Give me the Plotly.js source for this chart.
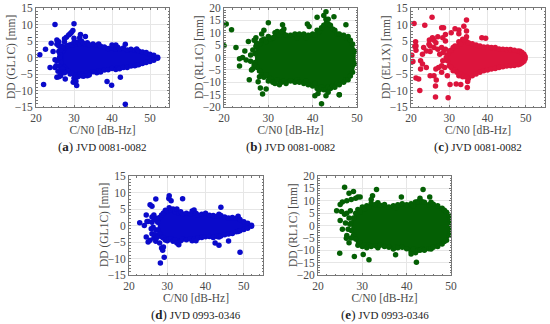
<!DOCTYPE html>
<html><head><meta charset="utf-8">
<script src="https://cdn.plot.ly/plotly-3.0.1.min.js"></script>
<style>html,body{margin:0;padding:0;background:#fff}#c{width:550px;height:324px}</style>
</head><body><div id="c"></div>
<script>
const blue='#0a0acb', green='#045f04', red='#dc143c';
const yRange15=[-15,15], yRange20=[-20,20];
const yTicks15=[-15,-10,-5,0,5,10,15], yTicks20=[-20,-15,-10,-5,0,5,10,15,20];
const xTicks=[20,30,40,50];

const aEnvX=[26.5,27,27.5,28,28.5,29,29.5,30,30.5,31,31.5,32,32.5,33,33.5,34,35,36,36.5,37,38,39,40,41,41.5,42,43,44,45,46,46.5,47,48,49,50,51,52];
const aUp=[0.6,2,2.8,3.4,3.6,3.9,3.8,4.6,4.2,4.7,4.1,4.9,4.3,4.1,4.5,3.9,4.1,3.7,4.1,3.4,3.2,2.7,3,2.6,3.1,2.6,2.9,2.3,2.5,2.2,2.6,2,1.7,1.5,1,0.7,0.1];
const aLo=[-0.8,-2.4,-3,-3.8,-4.2,-5,-4.8,-6.3,-5.4,-5.8,-5,-5.5,-4.9,-5.2,-4.6,-5,-4.3,-4.6,-4,-4.4,-3.8,-3.7,-3.3,-3.6,-3.1,-3.4,-3,-3,-2.6,-2.5,-2.2,-2.2,-1.8,-1.5,-1.2,-0.8,-0.2];
const aOutX=[25,30,29.7,29.3,29,28.6,28,27.5,31.7,33,31.5,25.5,26,25.5,26,24,22.5,21,24.5,23.7,22,25.5,26,26.5,27.7,30.7,29.8,38.7,39.9,42.2,43.5,25,25.5,25,41,40,43.5,26,30.5,25.3,26.5,27.5,32.5,33.5,34,30,26.3,26.6,26,27,27,26.4,25.8,26.6,27.2,26.8,26.2,27.5];
const aOutY=[10,10.2,8.2,7.6,7.2,6.8,6.1,5.7,7,6.4,6,5.3,4.8,4,3.5,4.3,2.5,0.8,1.8,-3,-8.2,-6,-5.8,-5.5,-6.5,-8.5,-7.5,-7.3,-8.4,-6,-14.2,-3,-1,-0.7,3.8,3.8,4,1.8,-7.2,-2.5,-3.8,4.7,-5.7,-5.5,-5.3,5.8,1,-1.5,-2.6,2.8,-3.4,2.2,-4.2,-4.6,-4.3,3.4,0,-4.6];

const bEnvX=[27,27.5,28,28.5,29,29.5,30,30.5,31,31.5,32,32.5,33,33.5,34,35,36,36.5,37,38,38.5,39,40,40.5,41,41.5,42,42.5,43,43.5,44,44.5,45,45.5,46,47,47.5,48,48.5,49,49.5];
const bUp=[1.5,4,5.5,7,7.5,6.5,8.5,7.5,8,10,10.5,9,10.5,11.5,9,9,9.5,8,9.5,9.5,8,9,9.5,9,11,10.5,12,13,15.5,13.5,13,11.5,11,9.5,9.5,9,8,8.5,7,5.5,2.5];
const bLo=[-2,-4,-5.5,-7,-8,-7,-9.5,-8.5,-10,-10.5,-9,-11,-10,-9.5,-10.5,-9.5,-10,-9,-10,-10.5,-9.5,-11,-11.5,-10.5,-12.5,-13,-12,-13,-13,-12,-12.5,-11.5,-12,-10.5,-11,-10,-9,-9,-7.5,-6,-2.5];
const bOutX=[20.5,20,21.7,22.7,23.5,23.5,24.2,24.7,25,25.5,26,25.7,26.2,26.5,27.7,28.2,28.7,29.5,30,33.2,38.8,41,43,42.5,43.5,44.8,46,47.5,40.5,41.2,42,43,46,43.5,28.5,27.2,29,26.8,39.2,26.8,27.2,26.5,26,28,27.3];
const bOutY=[13.5,4.7,11.2,4,-0.5,-3.4,0,2.6,-1,6.5,1,-9,-5,-4.5,-9.8,-12.3,-14.7,-12.7,14,13.2,13.5,16.3,18.5,17,15.5,16.5,-15,13.2,-15.5,-14.5,-18.7,-15.5,-15,-14,9.5,8,11,7,12.5,-3,4.5,3,-1.5,-7.8,6];

const cEnvX=[29.5,30,30.5,31,31.5,32,32.5,33,33.5,34,34.5,35,36,37,38,39,40,41,42,43,44,45,46,47,48,48.5,49,49.5,49.8];
const cUp=[0.8,2,2.2,3,3.5,3.4,4.8,4,5.5,5.2,6.3,4.5,4.2,3.8,3.5,3.2,3.2,3,3,2.6,2.5,2.4,2.4,2.2,2,1.9,1.5,1,0.3];
const cLo=[-1,-2.5,-3,-4,-3.8,-4.5,-5.5,-5,-5.8,-5.5,-6,-6.4,-5.5,-5,-4.5,-4,-3.8,-3.5,-3.3,-3,-2.8,-2.6,-2.5,-2.4,-2.2,-2,-1.6,-1.1,-0.4];
const cOutX=[25.5,20.8,23.6,34.5,20.2,28,28.5,31.5,32.5,33.8,34.5,30.5,32.5,24.8,25.6,26,27,28.3,29,21.2,21.3,21,21.3,20.3,20.5,22.5,23,23.3,24,24.7,25,25,26,26.5,27,28,29,21.3,22,22.5,23,24,25,26,26.5,22.3,26.6,26.4,29.7,30.2,31.8,33,34.7,34.8,28,29.5,38.5,39.5,27.5,28.3,28.8,29,28,27.2,29.2,28.4];
const cOutY=[12.2,10.3,9.8,11.4,0.7,9,9,8.7,8.3,9.5,8,7.5,7.2,5.3,6,5.2,6.3,6,7,4.8,3.5,3.3,2.2,-1.3,-1.2,-1,1,3,2,4,1.8,3.5,3,4.5,2.5,3,5,-6.2,-6.5,-3.5,-2,-3,-5.5,-5.5,-3.5,-10,-6.8,-8.6,-12.2,-8.2,-8,-8.2,-9.1,-7.3,-4.5,-5.5,6,5.8,1,-1,-3,2.5,-2.5,-3,0,1.5];
const cOut2X=[26.4];
const cOut2Y=[-12];

const dEnvX=[27.5,28,28.5,29,29.5,30,30.5,31,31.5,32,32.5,33,33.5,34,35,36,36.5,37,37.5,38,39,40,41,42,43,43.5,44,45,46,47,48,48.5,49,50,51,52];
const dUp=[1,2.4,3.2,3.8,4.6,4.4,5.4,4.6,5,4.2,5,3.8,4.2,3.5,3.7,3.5,4.4,4.7,3.7,3.2,3.4,3.7,3.1,3,2.8,3.4,3,2.6,2.3,2.4,2.2,2.8,1.8,1.1,0.7,0.1];
const dLo=[-1.4,-2.6,-3.4,-3.8,-4.4,-4.6,-4.2,-4,-4.8,-4.4,-5.3,-5.8,-4.6,-4.2,-4.3,-4,-4.6,-4.2,-4.6,-3.8,-3.6,-3.4,-3.3,-3.6,-3.3,-3.5,-3.2,-2.8,-2.6,-2.4,-1.9,-1.8,-1.6,-1.2,-0.8,-0.2];
const dOutX=[22.8,24,24.5,24.7,25.5,26,27,26.5,28.2,28.5,28.8,29.2,29,30.5,30.4,31,34,44,49,42.5,43.5,46,24.5,25,25.5,26.5,27,28,25,26,26.3,26.6,26,27,27.2,26.8,26,25.8,27.3];
const dOutY=[0.8,0,3.2,1.2,6.3,5.8,8,3.2,-11.4,-6.8,-7.5,-9.6,-6.5,9,8.2,7.5,8.1,5.5,-8.1,-5.3,-6,-4.7,-3.5,-5,-4.5,-3.8,-4.8,-5.3,1.2,1,-0.5,1.8,-2.5,-1.4,2.2,-2.8,2.6,-1,-3.6];

const eEnvX=[27.5,28,28.5,29,29.5,30,30.5,31,31.5,32,33,33.5,34,35,36,37,37.5,38,39,40,41,41.5,42,42.5,43,43.5,44,45,45.5,46,47,48,48.5,49,49.5,49.8];
const eUp=[1,3,5,6.5,5.5,7.5,6.8,8,7.5,9,8.5,9.2,8.2,8.5,7.5,8,7.2,8.4,8.8,8.4,8.8,8,9.5,9.6,11,9.6,9.4,8.4,9.4,8.6,8,7,6.2,5.4,4.2,2.5];
const eLo=[-2,-4,-5.5,-8,-7,-8.5,-7.8,-9,-8,-8.5,-8.2,-9,-8,-8.5,-8.8,-9.5,-8.8,-9,-8.8,-9.4,-10.5,-9.5,-11,-10,-10,-9.5,-10,-9.4,-9.5,-8.8,-8.5,-7.5,-6.5,-6,-4,-2.5];
const eOutX=[24.2,25,25.5,26,26.5,27,27.5,28,28.5,29,29.5,33.2,32.3,32,38.8,43.7,45.2,24.9,28.2,30.2,31.5,42.2,37.5,41,25.3,25,26,26.5,25.5,26.5,27,27.5,26.2,27,26.8,27.3,26.4,27.2];
const eOutY=[6,8.5,9.5,15.5,10,13,10.5,13.7,11,11.5,11.5,14.5,12,10.5,11.5,14.5,11.5,-11.2,-12.5,-11.7,-13.8,-14.8,-11.8,-11.5,5.7,2,4.5,5,-1.5,-4,-7,-5,1,3,-1.5,6,-5.2,0.5];

const panels=[
 {key:'',  color:blue,  box:[36,169,8,107],   xMax:55, yr:yRange15, yt:yTicks15, ytitle:'DD (GL1C) [mm]', cap:'a', pair:'JVD 0081-0082', ex:aEnvX, up:aUp, lo:aLo, ox:aOutX, oy:aOutY},
 {key:'2', color:green, box:[224,357,8,107],  xMax:50, yr:yRange20, yt:yTicks20, ytitle:'DD (RL1C) [mm]', cap:'b', pair:'JVD 0081-0082', ex:bEnvX, up:bUp, lo:bLo, ox:bOutX, oy:bOutY},
 {key:'3', color:red,   box:[411,545,8,107],  xMax:55, yr:yRange15, yt:yTicks15, ytitle:'DD (EL1X) [mm]', cap:'c', pair:'JVD 0081-0082', ex:cEnvX, up:cUp, lo:cLo, ox:cOutX.concat(cOut2X), oy:cOutY.concat(cOut2Y)},
 {key:'4', color:blue,  box:[129,263,176,275],xMax:55, yr:yRange15, yt:yTicks15, ytitle:'DD (GL1C) [mm]', cap:'d', pair:'JVD 0993-0346', ex:dEnvX, up:dUp, lo:dLo, ox:dOutX, oy:dOutY},
 {key:'5', color:green, box:[318,451,176,275],xMax:50, yr:yRange20, yt:yTicks20, ytitle:'DD (RL1C) [mm]', cap:'e', pair:'JVD 0993-0346', ex:eEnvX, up:eUp, lo:eLo, ox:eOutX, oy:eOutY}
];
const W=550,H=324, fam='"Liberation Serif",serif', txt='#4a4a4a';
const data=[], annotations=[];
const layout={width:W,height:H,margin:{l:0,r:0,t:0,b:0},paper_bgcolor:'#fff',plot_bgcolor:'#fff',showlegend:false,font:{family:fam,size:11,color:txt}};
panels.forEach(p=>{
  const [l,r,t,b]=p.box;
  const common={showline:true,mirror:'allticks',linecolor:'#777',linewidth:1,showgrid:true,gridcolor:'#e6e6e6',gridwidth:1,zeroline:false,ticks:'inside',ticklen:2,tickcolor:'#777',tickfont:{family:fam,size:11.5,color:txt}};
  layout['xaxis'+p.key]=Object.assign({},common,{domain:[l/W,r/W],range:[20,p.xMax],tickvals:xTicks,anchor:'y'+p.key,
     title:{text:'C/N0 [dB-Hz]',font:{family:fam,size:11.5,color:txt},standoff:3},minor:{dtick:2,ticks:'inside',ticklen:1.5,tickcolor:'#777',showgrid:false}});
  layout['yaxis'+p.key]=Object.assign({},common,{domain:[1-b/H,1-t/H],range:p.yr,tickvals:p.yt,anchor:'x'+p.key,
     minor:{dtick:1,ticks:'inside',ticklen:1.5,tickcolor:'#777',showgrid:false}});
  const axes={xaxis:'x'+p.key,yaxis:'y'+p.key};
  data.push(Object.assign({type:'scatter',mode:'lines',x:p.ex.concat(p.ex.slice().reverse()),y:p.up.concat(p.lo.slice().reverse()),fill:'toself',fillcolor:p.color,line:{color:p.color,width:2,shape:'linear'},hoverinfo:'skip'},axes));
  data.push(Object.assign({type:'scatter',mode:'markers',x:p.ex.concat(p.ex),y:p.up.concat(p.lo),marker:{color:p.color,size:5.5},hoverinfo:'skip'},axes));
  data.push(Object.assign({type:'scatter',mode:'markers',x:p.ox,y:p.oy,marker:{color:p.color,size:5.5},hoverinfo:'skip'},axes));
  annotations.push({xref:'paper',yref:'paper',x:(l-24.5)/W,y:1-(t+b)/2/H,xanchor:'center',yanchor:'middle',showarrow:false,textangle:-90,
     text:p.ytitle,font:{family:fam,size:11.5,color:txt}});
  annotations.push({xref:'paper',yref:'paper',x:(l+r)/2/W,y:1-(b+39)/H,xanchor:'center',yanchor:'middle',showarrow:false,
     text:'<span style="font-size:13px;color:#222">(<b>'+p.cap+'</b>)</span> <span style="color:#222">'+p.pair+'</span>',font:{family:fam,size:11,color:'#222'}});
});
layout.annotations=annotations;
Plotly.newPlot('c',data,layout,{staticPlot:true,displayModeBar:false});
</script></body></html>
